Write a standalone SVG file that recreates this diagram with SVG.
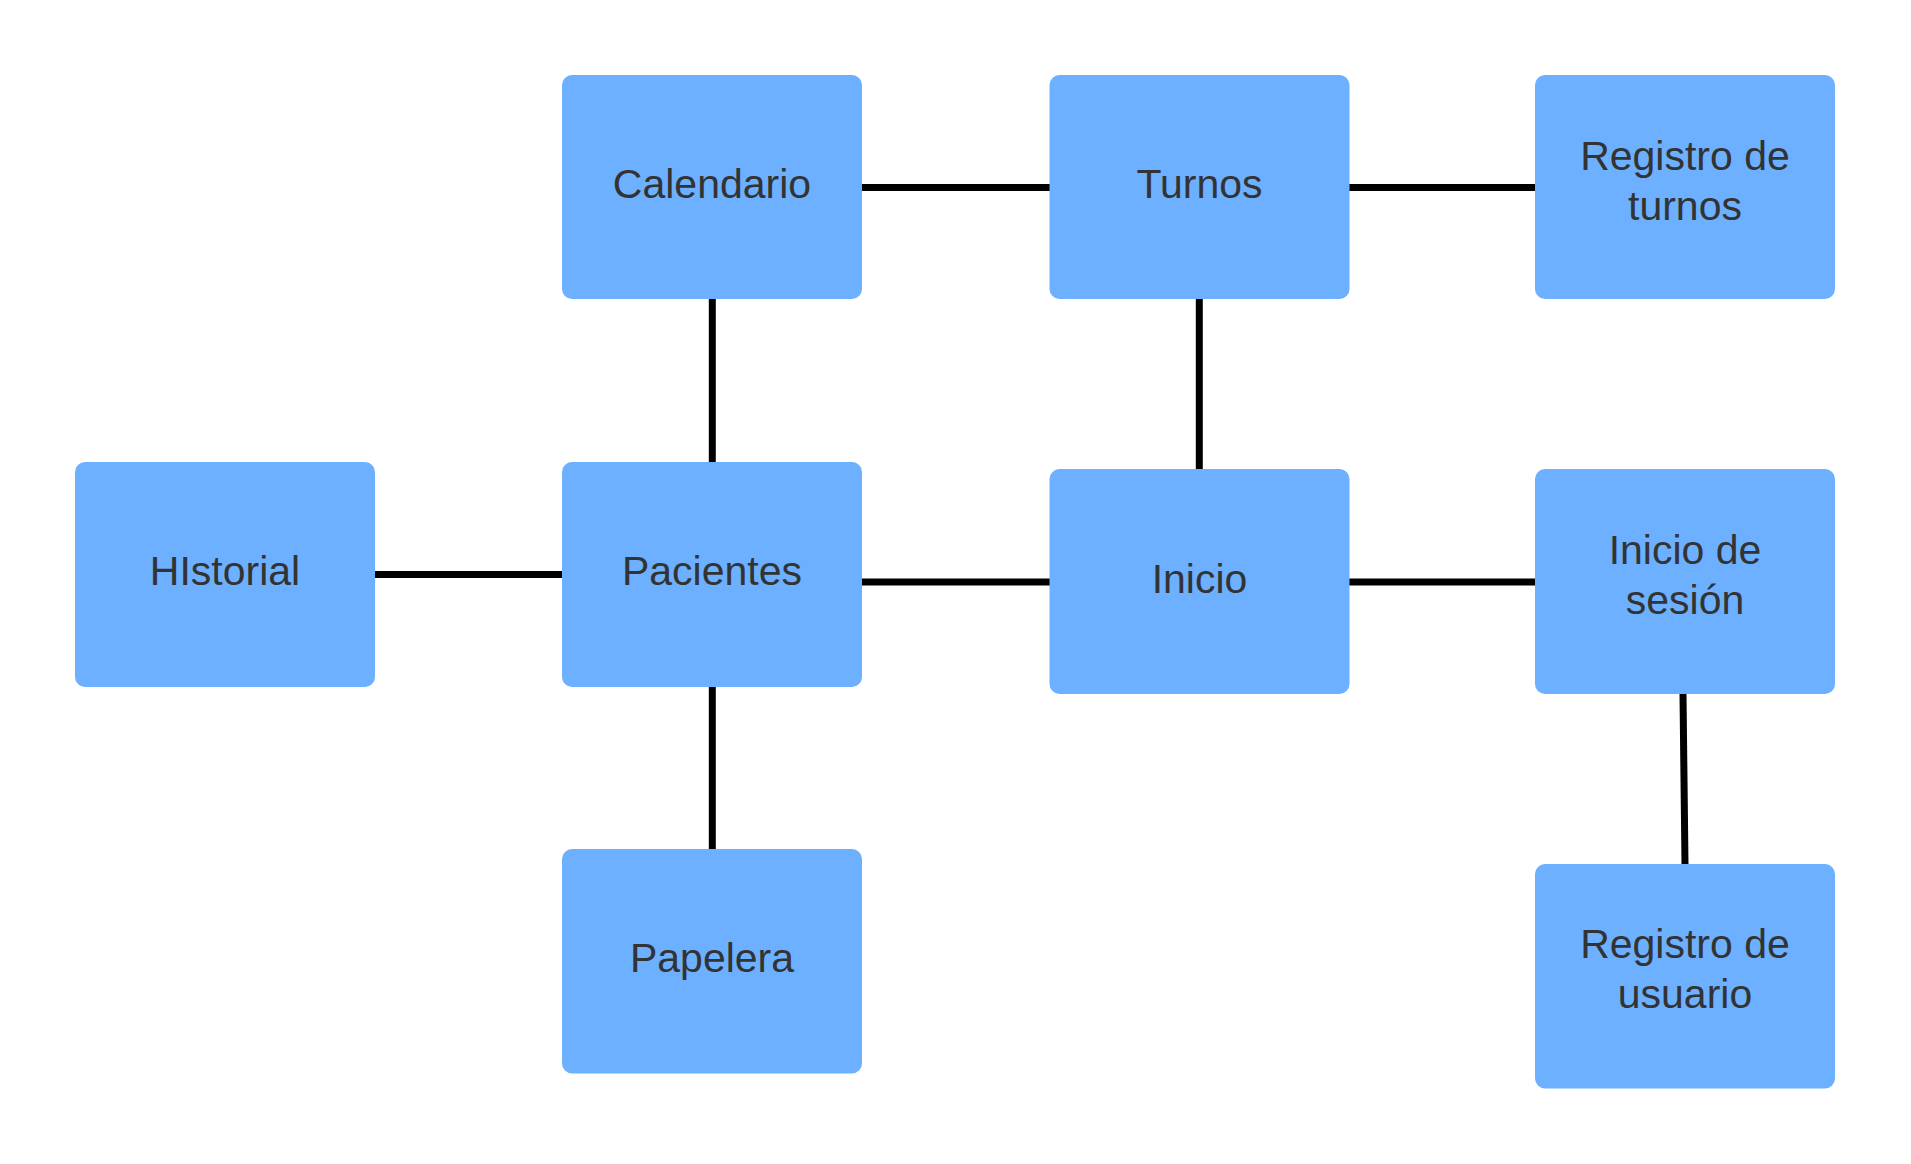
<svg xmlns="http://www.w3.org/2000/svg" width="1911" height="1164" viewBox="0 0 1911 1164">
<style>
.box{fill:#6cb0ff;}
.lbl{font-family:"Liberation Sans",Arial,sans-serif;font-size:41px;fill:#333333;text-anchor:middle;}
.conn line{stroke:#000000;stroke-width:7;fill:none;}
</style>
<rect x="0" y="0" width="1911" height="1164" fill="#ffffff"/>
<g id="connectors" class="conn">
<line x1="862" y1="187.5" x2="1050" y2="187.5"/>
<line x1="1349" y1="187.5" x2="1535" y2="187.5"/>
<line x1="712.3" y1="299" x2="712.3" y2="462"/>
<line x1="1199.3" y1="299" x2="1199.3" y2="469"/>
<line x1="375" y1="574.5" x2="562" y2="574.5"/>
<line x1="862" y1="582" x2="1050" y2="582"/>
<line x1="1349" y1="582" x2="1535" y2="582"/>
<line x1="712.3" y1="687" x2="712.3" y2="849"/>
<line x1="1683" y1="694" x2="1685" y2="864"/>
</g>
<g id="calendario">
<rect class="box" x="562" y="75" width="300" height="224" rx="10"/>
<text class="lbl" x="712" y="198">Calendario</text>
</g>
<g id="turnos">
<rect class="box" x="1049.5" y="75" width="300" height="224" rx="10"/>
<text class="lbl" x="1199.5" y="198">Turnos</text>
</g>
<g id="registro-turnos">
<rect class="box" x="1535" y="75" width="300" height="224" rx="10"/>
<text class="lbl" x="1685" y="170">Registro de</text>
<text class="lbl" x="1685" y="219.5">turnos</text>
</g>
<g id="historial">
<rect class="box" x="75" y="462" width="300" height="225" rx="10"/>
<text class="lbl" x="225" y="585">HIstorial</text>
</g>
<g id="pacientes">
<rect class="box" x="562" y="462" width="300" height="225" rx="10"/>
<text class="lbl" x="712" y="585">Pacientes</text>
</g>
<g id="inicio">
<rect class="box" x="1049.5" y="469" width="300" height="225" rx="10"/>
<text class="lbl" x="1199.5" y="592.5">Inicio</text>
</g>
<g id="inicio-sesion">
<rect class="box" x="1535" y="469" width="300" height="225" rx="10"/>
<text class="lbl" x="1685" y="564">Inicio de</text>
<text class="lbl" x="1685" y="614">sesión</text>
</g>
<g id="papelera">
<rect class="box" x="562" y="849" width="300" height="224.5" rx="10"/>
<text class="lbl" x="712" y="972">Papelera</text>
</g>
<g id="registro-usuario">
<rect class="box" x="1535" y="864" width="300" height="224.5" rx="10"/>
<text class="lbl" x="1685" y="958">Registro de</text>
<text class="lbl" x="1685" y="1008">usuario</text>
</g>
</svg>
